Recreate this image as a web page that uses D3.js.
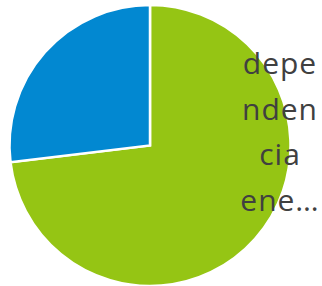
<!DOCTYPE html>
<html>
<head>
<meta charset="utf-8">
<script src="https://cdn.jsdelivr.net/npm/d3@7"></script>
<style>
body { margin: 0; background: #fff; }
</style>
</head>
<body>
<div id="chart"></div>
<script>
var categories = ["dependencia energética", "otros"];
var values = [73.1, 26.9];
var colors = ["#95c514", "#0288d1"];
var labelLines = ["depe", "nden", "cia", "ene…"];

var width = 322, height = 286;
var cx = 150, cy = 145.5, radius = 140.5;

var svg = d3.select("#chart").append("svg")
    .attr("width", width)
    .attr("height", height);

var pie = d3.pie().sort(null).value(function(d){ return d; });
var arc = d3.arc().innerRadius(0).outerRadius(radius);

var g = svg.append("g").attr("transform", "translate(" + cx + "," + cy + ")");

g.selectAll("path")
    .data(pie(values))
    .enter().append("path")
    .attr("d", arc)
    .attr("fill", function(d, i){ return colors[i]; })
    .attr("stroke", "#fff")
    .attr("stroke-width", 2.5)
    .attr("stroke-linejoin", "miter");

// label of the first slice, wrapped like the original
var lab = svg.append("text")
    .attr("x", 279.5)
    .attr("y", 74)
    .attr("text-anchor", "middle")
    .attr("fill", "#404040")
    .style("font-family", "'Open Sans', sans-serif")
    .style("font-size", "30px")
    .style("letter-spacing", "1px");

lab.selectAll("tspan")
    .data(labelLines)
    .enter().append("tspan")
    .attr("x", 280)
    .attr("dy", function(d, i){ return i == 0 ? 0 : 45.5; })
    .text(function(d){ return d; });
</script>
</body>
</html>
